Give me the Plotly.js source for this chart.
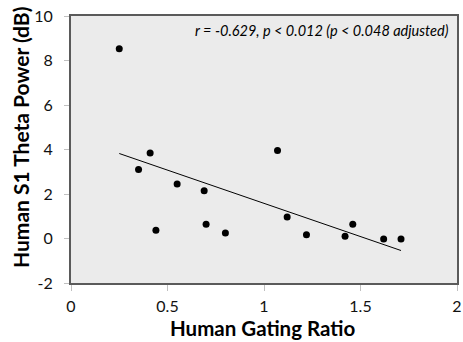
<!DOCTYPE html>
<html>
<head>
<meta charset="utf-8">
<script src="https://cdn.plot.ly/plotly-3.0.1.min.js"></script>
<style>html,body{margin:0;padding:0;background:#fff;}#chart{width:463px;height:342px;}</style>
</head>
<body>
<div id="chart"></div>
<script>
const gatingRatio = [0.25, 0.35, 0.41, 0.44, 0.55, 0.69, 0.70, 0.80, 1.07, 1.12, 1.22, 1.42, 1.46, 1.62, 1.71];
const thetaPower  = [8.53, 3.10, 3.84, 0.37, 2.45, 2.15, 0.64, 0.25, 3.96, 0.97, 0.17, 0.10, 0.64, -0.02, -0.02];
const fitX = [0.25, 1.71];
const fitY = [3.82, -0.54];
const xTicks = [0, 0.5, 1, 1.5, 2];
const xTickText = ['0', '0.5', '1', '1.5', '2'];
const yTicks = [-2, 0, 2, 4, 6, 8, 10];
const yTickText = ['-2', '0', '2', '4', '6', '8', '10'];
const xTitle = 'Human Gating Ratio';
const yTitle = 'Human S1 Theta Power (dB)';
const statText = 'r = -0.629, p < 0.012 (p < 0.048 adjusted)';

const font = 'Lato, "Open Sans", sans-serif';
const W = 463, H = 342, mL = 71, mR = 6, mT = 16, mB = 59;
const plotH = H - mT - mB, plotW = W - mL - mR;
const traces = [
  {x: fitX, y: fitY, mode: 'lines', type: 'scatter', line: {color: '#000', width: 1}, hoverinfo: 'skip'},
  {x: gatingRatio, y: thetaPower, mode: 'markers', type: 'scatter', marker: {color: '#000', size: 7}}
];
const layout = {
  width: W, height: H,
  margin: {l: mL, r: mR, t: mT, b: mB},
  paper_bgcolor: '#ffffff', plot_bgcolor: '#ebebeb',
  showlegend: false,
  font: {family: font, color: '#000', size: 16},
  xaxis: {
    range: [0, 2], tickvals: xTicks, ticktext: xTickText,
    showgrid: false, zeroline: false,
    showline: true, mirror: true, linecolor: '#5a5a5a', linewidth: 2,
    ticks: 'outside', ticklen: 6, tickcolor: '#c0c0c0', tickwidth: 1,
    ticklabelstandoff: 2,
    tickfont: {size: 16, family: font, color: '#111'}
  },
  yaxis: {
    range: [-2, 10], tickvals: yTicks, ticktext: yTickText,
    showgrid: false, zeroline: false,
    showline: true, mirror: true, linecolor: '#5a5a5a', linewidth: 2,
    ticks: 'outside', ticklen: 5, tickcolor: '#c0c0c0', tickwidth: 1,
    ticklabelstandoff: 8,
    tickfont: {size: 16, family: font, color: '#111'}
  },
  annotations: [{
    text: '<i>' + statText + '</i>', xref: 'paper', yref: 'paper',
    x: (451 - mL) / plotW, y: (H - mB - 30) / plotH, xanchor: 'right', yanchor: 'middle', showarrow: false,
    font: {size: 14.5, family: font, color: '#000'}
  }, {
    text: '<b>' + yTitle + '</b>', xref: 'paper', yref: 'paper', textangle: -90,
    x: (20 - mL) / plotW, y: (H - mB - 138) / plotH, xanchor: 'center', yanchor: 'middle', showarrow: false,
    font: {size: 21, family: font, color: '#000'}
  }, {
    text: '<b>' + xTitle + '</b>', xref: 'paper', yref: 'paper',
    x: (262 - mL) / plotW, y: (H - mB - 328) / plotH, xanchor: 'center', yanchor: 'middle', showarrow: false,
    font: {size: 20.5, family: font, color: '#000'}
  }]
};
Plotly.newPlot('chart', traces, layout, {staticPlot: true, displayModeBar: false});
</script>
</body>
</html>
